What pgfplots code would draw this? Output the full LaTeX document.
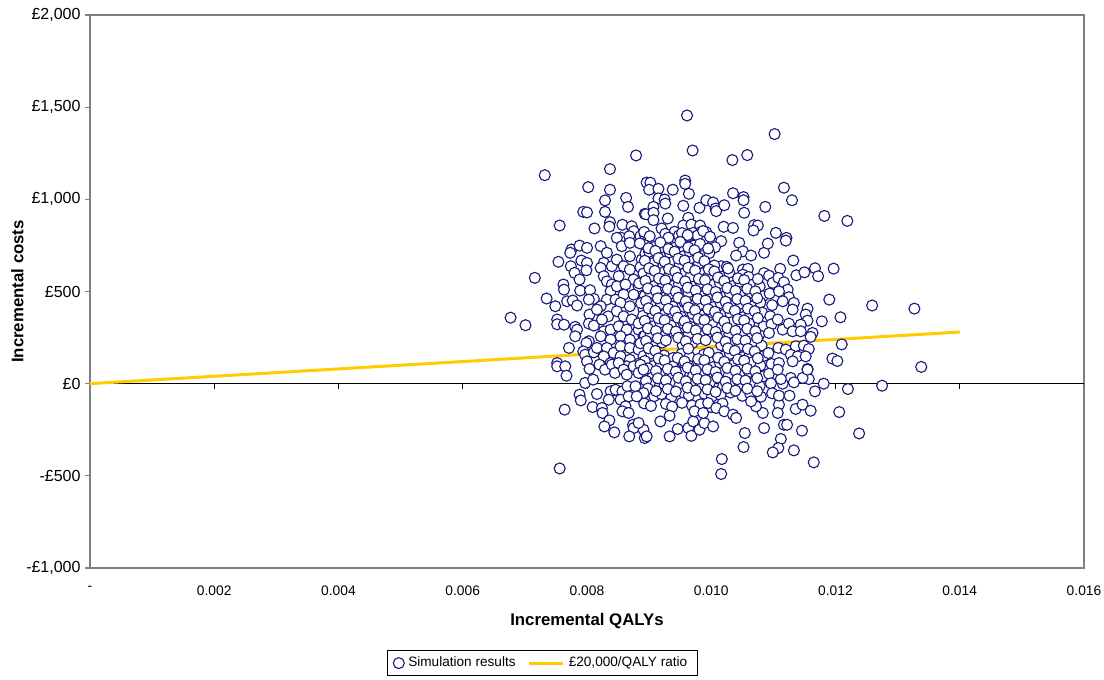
\documentclass[border=0pt]{standalone}
\usepackage{fontspec}
\setmainfont{Liberation Sans}
\usepackage{pgfplots}
\usepackage{pgfplotstable}
\pgfplotsset{compat=1.18}
\definecolor{navyc}{RGB}{25,25,125}
\definecolor{goldc}{RGB}{255,204,0}
\definecolor{axgray}{RGB}{128,128,128}

\pgfplotstableread{
x y
0.00879 1238
0.00732 1131
0.00837 1164
0.00802 1066
0.00837 1052
0.00829 994
0.00863 1008
0.00866 959
0.00794 932
0.00800 929
0.00829 932
0.00893 921
0.00756 858
0.00812 842
0.00837 876
0.00836 852
0.00857 862
0.00872 854
0.00875 827
0.00854 793
0.00868 800
0.00886 800
0.00893 809
0.00896 1091
0.00961 1455
0.01102 1354
0.00970 1265
0.01034 1213
0.01058 1240
0.00902 1090
0.00900 1052
0.00915 1057
0.00938 1052
0.00958 1102
0.00958 1084
0.00964 1030
0.01035 1033
0.01052 1012
0.01052 995
0.01117 1063
0.00915 1005
0.00925 999
0.00926 977
0.00907 959
0.00955 965
0.00981 954
0.00992 995
0.01003 983
0.01007 950
0.01008 936
0.01021 968
0.01053 927
0.01087 959
0.00895 919
0.00907 927
0.00907 887
0.00930 896
0.00963 900
0.00920 842
0.00955 858
0.00968 863
0.00982 858
0.00941 824
0.00971 818
0.00983 822
0.00992 822
0.01020 851
0.01035 845
0.01069 860
0.01075 858
0.01068 831
0.01104 818
0.00948 804
0.00963 800
0.00978 804
0.01130 995
0.01182 910
0.01219 883
0.01121 791
0.00775 728
0.00788 749
0.00800 737
0.00773 710
0.00754 661
0.00716 574
0.00774 637
0.00780 601
0.00788 565
0.00791 668
0.00800 655
0.00799 615
0.00762 538
0.00763 510
0.00735 462
0.00749 420
0.00768 447
0.00777 451
0.00784 424
0.00789 505
0.00805 507
0.00811 460
0.00803 456
0.00677 358
0.00701 317
0.00752 348
0.00752 322
0.00763 320
0.00781 308
0.00784 293
0.00804 375
0.00803 326
0.00811 315
0.00781 257
0.00803 230
0.00799 221
0.00771 194
0.00794 175
0.00797 157
0.00811 170
0.00816 194
0.00752 112
0.00752 94
0.00765 94
0.00822 746
0.00832 710
0.00827 655
0.00822 628
0.00840 637
0.00827 583
0.00832 555
0.00840 538
0.00838 501
0.00832 456
0.00846 456
0.00822 420
0.00816 402
0.00834 365
0.00824 348
0.00827 284
0.00822 257
0.00838 293
0.00838 239
0.00832 194
0.00843 167
0.00827 148
0.00838 112
0.00848 94
0.00848 791
0.00856 746
0.00869 764
0.00891 755
0.00848 673
0.00869 691
0.00888 673
0.00859 637
0.00869 619
0.00891 601
0.00851 583
0.00875 565
0.00848 528
0.00862 538
0.00883 528
0.00859 483
0.00875 483
0.00891 465
0.00854 438
0.00869 420
0.00891 402
0.00848 393
0.00859 365
0.00872 348
0.00891 348
0.00851 311
0.00864 293
0.00883 293
0.00854 257
0.00869 239
0.00891 257
0.00854 203
0.00869 194
0.00883 185
0.00854 148
0.00869 130
0.00891 130
0.00864 94
0.01045 764
0.01051 718
0.01040 695
0.01064 695
0.01085 710
0.01091 760
0.01016 637
0.01025 634
0.01051 619
0.01059 623
0.01003 764
0.01016 773
0.00892 823
0.00901 800
0.00926 813
0.00931 792
0.00953 817
0.00962 806
0.00987 828
0.00998 797
0.00885 761
0.00909 743
0.00918 766
0.00941 738
0.00950 769
0.00972 749
0.00982 758
0.01006 740
0.00894 706
0.00900 715
0.00925 688
0.00933 711
0.00956 693
0.00965 718
0.00989 697
0.00997 709
0.00886 632
0.00907 655
0.00923 640
0.00939 661
0.00949 649
0.00973 630
0.00980 652
0.01005 641
0.00891 598
0.00903 581
0.00924 605
0.00932 587
0.00955 596
0.00966 578
0.00988 601
0.00996 589
0.01021 584
0.01029 603
0.01051 591
0.01060 579
0.01085 600
0.01093 586
0.00884 544
0.00908 529
0.00921 551
0.00940 533
0.00948 540
0.00971 526
0.00983 548
0.01003 536
0.01014 545
0.01035 530
0.01046 552
0.01067 538
0.01078 527
0.01099 547
0.00893 477
0.00902 491
0.00927 472
0.00934 488
0.00954 480
0.00963 495
0.00986 475
0.00999 486
0.01019 470
0.01030 490
0.01050 479
0.01062 494
0.01083 474
0.01094 489
0.00887 437
0.00906 421
0.00919 433
0.00938 418
0.00957 441
0.00969 425
0.00981 430
0.01004 416
0.01015 438
0.01034 423
0.01047 434
0.01066 419
0.01079 440
0.01098 426
0.00890 368
0.00905 383
0.00922 371
0.00937 386
0.00951 364
0.00970 379
0.00985 369
0.01001 387
0.01018 372
0.01031 380
0.01052 362
0.01063 377
0.01082 385
0.01095 366
0.00883 327
0.00908 313
0.00918 331
0.00935 316
0.00956 324
0.00967 308
0.00983 329
0.01002 318
0.01017 311
0.01033 333
0.01049 315
0.01061 326
0.01084 310
0.01097 322
0.00893 259
0.00902 274
0.00926 262
0.00940 277
0.00949 255
0.00964 270
0.00987 261
0.00997 279
0.01020 257
0.01029 268
0.01053 272
0.01065 253
0.01077 264
0.01093 275
0.00886 219
0.00909 205
0.00921 223
0.00954 208
0.00970 221
0.01016 209
0.01036 224
0.01045 203
0.01068 218
0.01081 207
0.00891 150
0.00903 164
0.00924 153
0.00939 140
0.00952 161
0.00965 146
0.00988 158
0.00996 168
0.01021 149
0.01030 162
0.01051 144
0.01062 159
0.01085 151
0.01092 166
0.00884 110
0.00907 96
0.00919 108
0.00938 93
0.00955 114
0.00963 99
0.00984 105
0.01003 90
0.01014 112
0.01035 101
0.01048 95
0.01066 116
0.01079 98
0.01097 107
0.00889 56
0.00906 41
0.00923 53
0.00933 38
0.00950 60
0.00971 45
0.00982 51
0.01004 36
0.01017 58
0.01028 43
0.01053 49
0.01061 62
0.01084 40
0.01093 54
0.00894 -12
0.00901 3
0.00925 -9
0.00941 6
0.00948 -16
0.00966 -1
0.00986 -10
0.00998 8
0.01019 -14
0.01034 1
0.01046 -7
0.01067 5
0.01078 -13
0.01096 2
0.00885 -53
0.00908 -68
0.00920 -57
0.00936 -72
0.00956 -50
0.00964 -64
0.00989 -55
0.01001 -70
0.01015 -62
0.01031 -48
0.01050 -66
0.01063 -58
0.01080 -71
0.01098 -52
0.00892 -107
0.00903 -121
0.00927 -110
0.00937 -125
0.00953 -104
0.00969 -118
0.00983 -112
0.01000 -127
0.01018 -108
0.00899 735
0.00910 720
0.00931 731
0.00941 716
0.00963 739
0.00973 724
0.00995 733
0.00893 667
0.00915 681
0.00925 662
0.00947 678
0.00957 668
0.00979 684
0.00989 665
0.00900 626
0.00909 612
0.00932 622
0.00942 608
0.00963 629
0.00974 614
0.00996 621
0.01005 609
0.01027 625
0.00894 558
0.00916 571
0.00926 560
0.00946 574
0.00958 555
0.00980 569
0.00990 561
0.01011 576
0.01021 557
0.01043 572
0.01053 562
0.01075 568
0.00898 517
0.00911 503
0.00930 514
0.00943 499
0.00962 521
0.00975 506
0.00994 512
0.01007 498
0.01026 519
0.01039 504
0.01058 515
0.01071 501
0.00895 449
0.00914 463
0.00927 452
0.00947 466
0.00959 447
0.00978 460
0.00991 451
0.01010 468
0.01023 445
0.01042 459
0.01055 450
0.01074 464
0.00899 409
0.00910 395
0.00931 406
0.00942 392
0.00963 413
0.00974 398
0.00995 404
0.01006 390
0.01027 411
0.01038 396
0.01059 407
0.01070 393
0.00893 341
0.00915 355
0.00925 344
0.00946 358
0.00957 339
0.00979 352
0.00989 345
0.01011 359
0.01021 337
0.01043 350
0.01053 343
0.01075 356
0.00898 300
0.00911 286
0.00930 297
0.00943 283
0.00962 304
0.00975 289
0.00994 295
0.01007 281
0.01026 302
0.01039 287
0.01058 298
0.01071 284
0.00895 232
0.00914 246
0.00927 235
0.00947 249
0.00959 230
0.00978 243
0.00991 236
0.01010 250
0.01023 228
0.01042 241
0.01055 234
0.01074 247
0.00899 192
0.00910 178
0.00963 190
0.01027 192
0.01038 178
0.01059 189
0.01070 175
0.00893 123
0.00915 137
0.00925 126
0.00946 140
0.00957 121
0.00979 134
0.00989 127
0.01011 141
0.01021 119
0.01043 132
0.01053 125
0.01075 138
0.00898 83
0.00911 69
0.00930 80
0.00943 66
0.00962 87
0.00975 72
0.00994 78
0.01007 64
0.01026 85
0.01039 70
0.01058 81
0.01071 67
0.00895 15
0.00914 29
0.00927 18
0.00947 32
0.00959 13
0.00978 26
0.00991 19
0.01010 33
0.01023 11
0.01042 24
0.01055 17
0.01074 30
0.00898 -26
0.00911 -40
0.00930 -29
0.00943 -43
0.00962 -22
0.00975 -37
0.00994 -31
0.01007 -45
0.01026 -24
0.01039 -38
0.01058 -27
0.01074 -41
0.01120 776
0.01132 668
0.01111 623
0.01137 588
0.01150 604
0.01167 626
0.01172 583
0.01197 624
0.01108 574
0.01117 550
0.01123 510
0.01109 501
0.01190 456
0.01259 424
0.01327 407
0.01125 469
0.01115 447
0.01133 438
0.01131 402
0.01155 407
0.01152 375
0.01155 342
0.01178 338
0.01208 360
0.01107 348
0.01115 293
0.01125 326
0.01131 284
0.01144 320
0.01144 284
0.01163 275
0.01160 254
0.01210 213
0.01108 194
0.01120 185
0.01136 203
0.01149 206
0.01157 188
0.01128 157
0.01139 148
0.01152 148
0.01195 136
0.01203 123
0.01109 112
0.01131 121
0.01155 80
0.01338 91
0.00767 43
0.00797 4
0.00810 22
0.00800 121
0.00804 80
0.00788 -60
0.00790 -91
0.00764 -141
0.00816 -56
0.00809 -127
0.00824 -132
0.00825 -159
0.00836 -199
0.00828 -232
0.00844 -264
0.00756 -460
0.00820 103
0.00829 76
0.00840 103
0.00845 58
0.00851 112
0.00859 76
0.00864 49
0.00875 94
0.00886 103
0.00883 58
0.00891 76
0.00838 -42
0.00846 -33
0.00857 -42
0.00865 -14
0.00878 -14
0.00891 -51
0.00835 -87
0.00854 -87
0.00867 -69
0.00880 -69
0.00862 -123
0.00857 -150
0.00867 -159
0.00874 -223
0.00891 -250
0.00875 -241
0.00868 -286
0.00893 -295
0.00883 -213
0.00896 -286
0.00918 -205
0.00933 -174
0.00946 -246
0.00933 -286
0.00963 -241
0.00968 -283
0.00971 -205
0.00981 -250
0.00989 -214
0.01003 -232
0.00973 -150
0.00987 -159
0.00995 -105
0.01008 -132
0.01021 -150
0.01035 -168
0.01040 -186
0.01054 -268
0.01052 -344
0.01017 -409
0.01016 -490
0.01085 -241
0.01112 -300
0.01108 -349
0.01099 -373
0.01117 -223
0.01109 -114
0.01107 -159
0.01083 -159
0.01072 -123
0.01064 -96
0.01109 -65
0.01275 -11
0.01220 -29
0.01181 0
0.01167 -42
0.01206 -154
0.01238 -270
0.01165 -427
0.01133 -362
0.01146 -255
0.01122 -223
0.01136 -137
0.01147 -114
0.01160 -147
0.01126 -65
0.01157 25
0.01147 31
0.01155 76
0.01128 31
0.01133 7
0.01115 0
0.01112 25
0.01107 76
}\simdata

\begin{document}
\begin{tikzpicture}
\path[use as bounding box] (0,0) rectangle (552pt,340pt);
\begin{axis}[
  at={(45pt,56pt)}, anchor=south west,
  scale only axis, width=497pt, height=276.5pt,
  xmin=0, xmax=0.016, ymin=-1000, ymax=2000,
  scaled x ticks=false, scaled y ticks=false,
  xtick={0,0.002,0.004,0.006,0.008,0.010,0.012,0.014,0.016},
  xticklabels={-,0.002,0.004,0.006,0.008,0.010,0.012,0.014,0.016},
  ytick={-1000,-500,0,500,1000,1500,2000},
  yticklabels={{-£1,000},{-£500},{£0},{£500},{£1,000},{£1,500},{£2,000}},
  axis line style={axgray, line width=0.6pt},
  x tick style={draw=none},
  y tick style={axgray, line width=0.6pt},
  tick align=outside, ytick pos=left, xtick pos=bottom,
  major tick length=2.5pt,
  xticklabel style={font=\fontsize{6.9}{8}\selectfont, yshift=-3pt},
  yticklabel style={font=\fontsize{8}{9}\selectfont, xshift=1.3pt},
  xlabel={\bfseries Incremental QALYs},
  ylabel={\bfseries Incremental costs},
  label style={font=\fontsize{8.4}{10}\selectfont},
  xlabel style={at={(axis description cs:0.5,0)}, yshift=-19pt},
  ylabel style={yshift=-5.5pt},
  reverse legend,
  legend columns=2,
  legend style={at={(0.455,-0.172)}, anchor=center, draw=black, line width=0.5pt,
    font=\fontsize{6.8}{8}\selectfont, inner xsep=3pt, inner ysep=1pt,
    /tikz/every even column/.append style={column sep=4pt}},
  legend cell align=left,
  clip=true,
]
\addplot[black, line width=0.5pt, forget plot] coordinates {(0,0) (0.016,0)};
\pgfplotsinvokeforeach{0.002,0.004,0.006,0.008,0.010,0.012,0.014,0.016}{
  \draw[black, line width=0.5pt] (axis cs:#1,0) -- ([yshift=-2.5pt]axis cs:#1,0);
}
\addplot[goldc, line width=1.5pt] coordinates {(0,0) (0.014,280)};
\addlegendentry{£20,000/QALY ratio}
\addplot[only marks, mark=*, mark size=2.75pt,
  mark options={fill=white, draw=navyc, line width=0.55pt}] table {\simdata};
\addlegendentry{Simulation results}
\end{axis}
\end{tikzpicture}
\end{document}
